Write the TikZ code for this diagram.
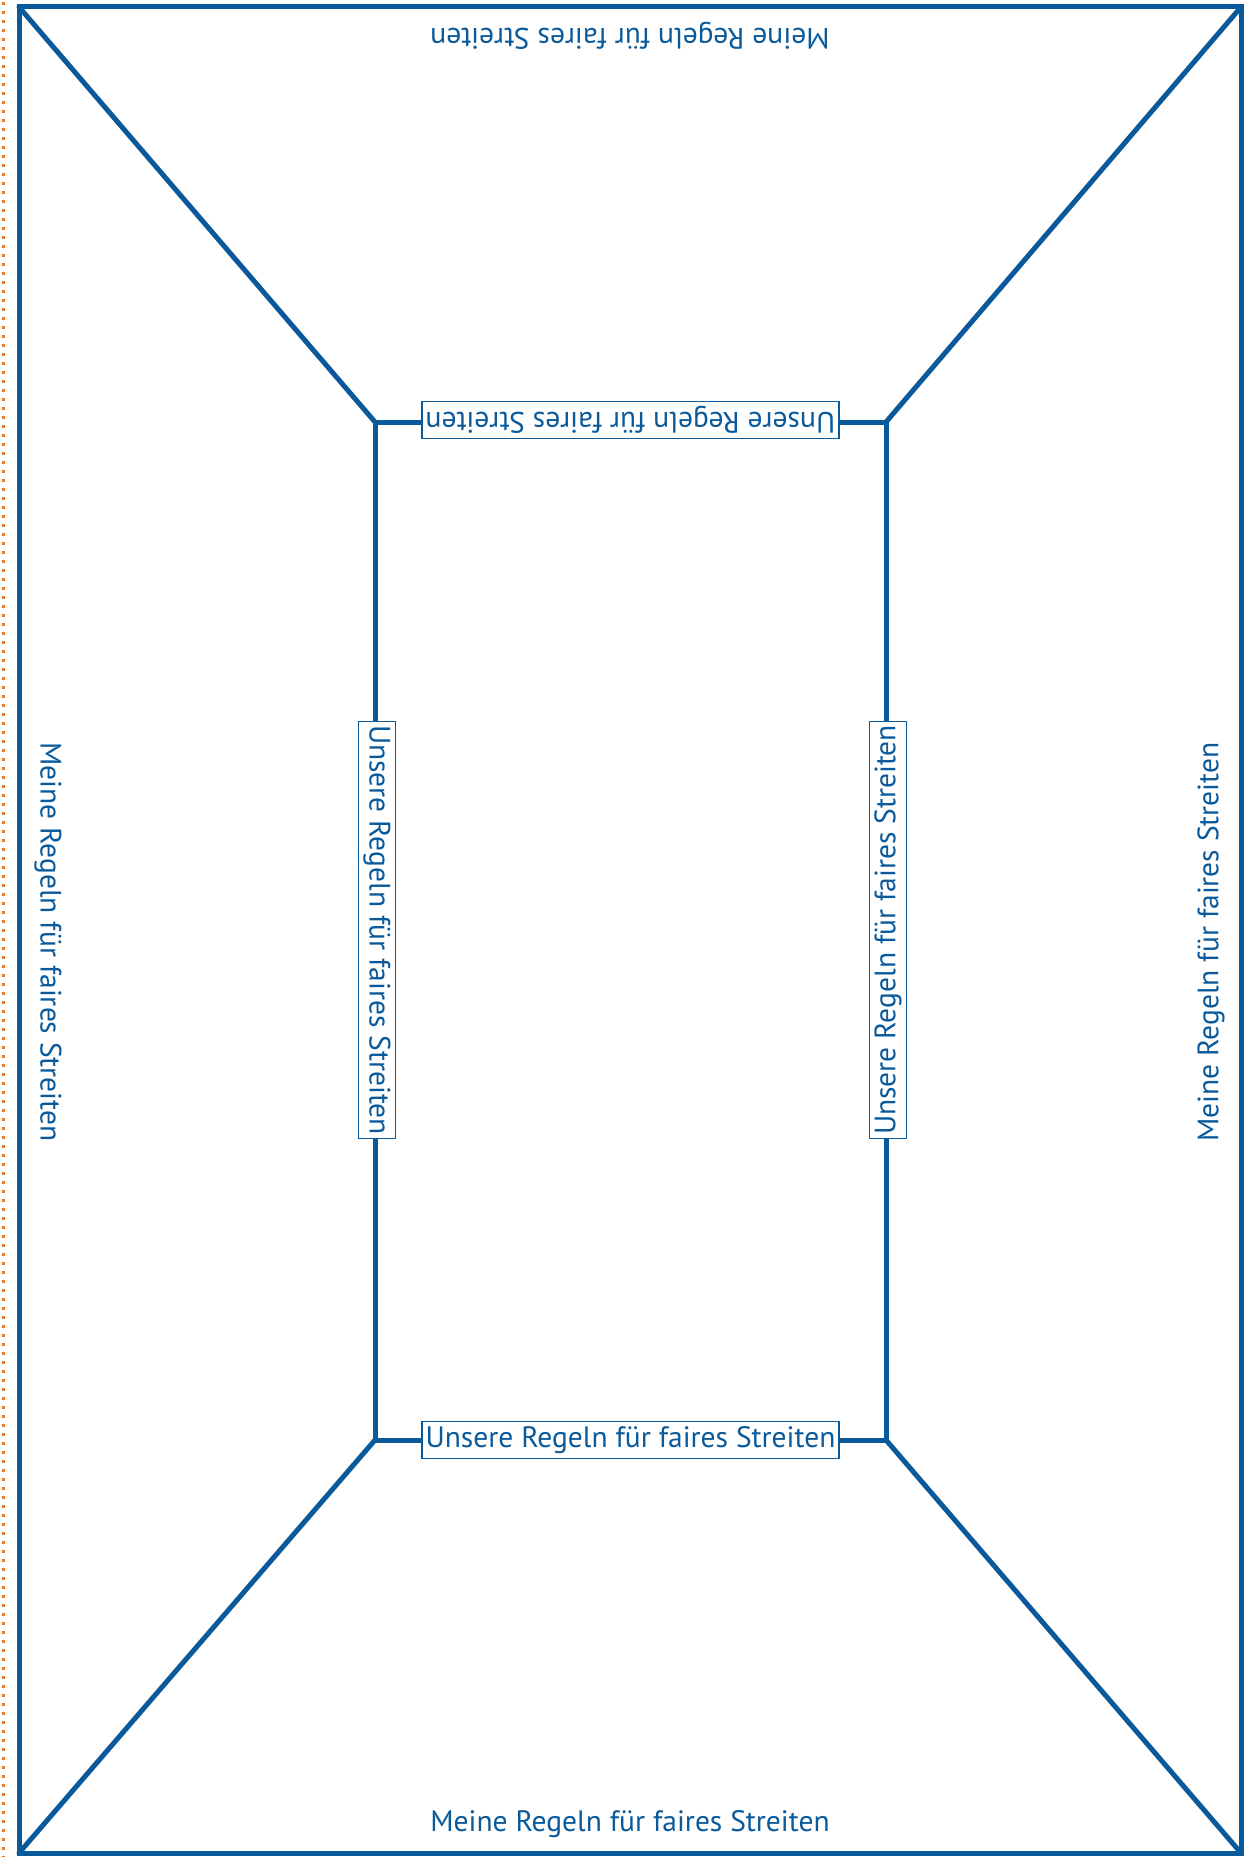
\documentclass[tikz,border=0pt]{standalone}
\usepackage{fontspec}
\setmainfont{PT Sans}
\definecolor{fblue}{RGB}{10,90,155}
\definecolor{forange}{RGB}{240,120,30}
\begin{document}
\begin{tikzpicture}[x=1pt,y=-1pt,
  frame/.style={draw=fblue,line width=5pt,line join=miter},
  lbl/.style={text=fblue,font=\fontsize{29.5}{30}\selectfont,inner sep=0pt},
  boxlbl/.style={lbl,draw=fblue,line width=1.3pt,fill=white,inner xsep=3.5pt,inner ysep=5pt}]
\useasboundingbox (0,0) rectangle (1248,1857);
% orange dotted margin line
\draw[forange,line width=3pt,dash pattern=on 3pt off 6pt] (3.5,2) -- (3.5,1857);
% corners
\coordinate (o1) at (19,7);
\coordinate (o2) at (1241,7);
\coordinate (o3) at (1241,1853);
\coordinate (o4) at (19,1853);
\coordinate (i1) at (375,422);
\coordinate (i2) at (886,422);
\coordinate (i3) at (886,1440);
\coordinate (i4) at (375,1440);
\draw[frame] (o1) -- (o2) -- (o3) -- (o4) -- cycle;
\draw[frame] (i1) -- (i2) -- (i3) -- (i4) -- cycle;
\draw[frame,line cap=round] (o1) -- (i1) (o2) -- (i2) (o3) -- (i3) (o4) -- (i4);
% inner labels
\node[boxlbl,rotate=180] (lt) at (630.5,420) {Unsere Regeln für faires Streiten};
\node[boxlbl] (lb) at (630.5,1440) {Unsere Regeln für faires Streiten};
\node[boxlbl,rotate=-90] (ll) at (377,930) {Unsere Regeln für faires Streiten};
\node[boxlbl,rotate=90] (lr) at (888,930) {Unsere Regeln für faires Streiten};
% outer labels
\node[lbl,rotate=180] (mt) at (630,36) {Meine Regeln für faires Streiten};
\node[lbl] (mb) at (630,1824) {Meine Regeln für faires Streiten};
\node[lbl,rotate=-90] (ml) at (48,942) {Meine Regeln für faires Streiten};
\node[lbl,rotate=90] (mr) at (1211,942) {Meine Regeln für faires Streiten};
\end{tikzpicture}
\end{document}
